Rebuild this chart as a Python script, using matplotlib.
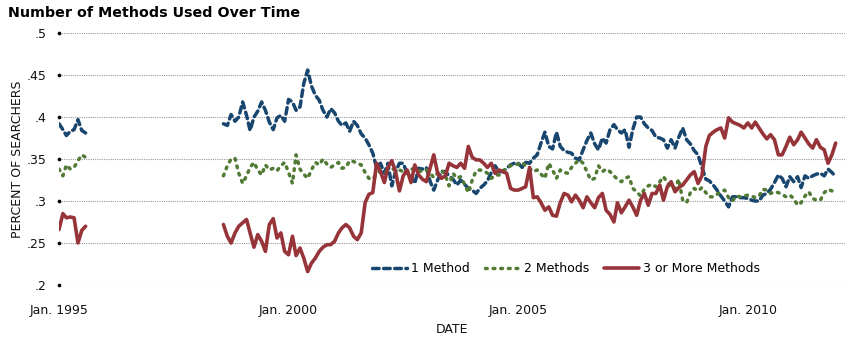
import numpy as np
import pandas as pd
import matplotlib
matplotlib.use("Agg")
import matplotlib.pyplot as plt
import matplotlib.transforms as mtransforms

# ---------------- data ----------------
early_start = "1995-01-01"
main_start = "1998-08-01"

blue_1995 = [.392, .385, .378, .383, .385, .397, .384, .381]
green_1995 = [.338, .330, .343, .338, .340, .348, .355, .352]
red_1995 = [.266, .285, .280, .281, .280, .250, .265, .270]

one_method = [
    .392, .390, .403, .395, .400,
    .418, .402, .384, .400, .407, .418, .408, .394, .385, .399, .402, .395,
    .421, .418, .408, .412, .440, .456, .437, .426, .420, .408, .400, .410,
    .405, .395, .390, .393, .383, .395, .390, .380, .375, .367, .357, .340,
    .345, .333, .345, .318, .335, .345, .345, .333, .329, .321, .339, .338,
    .340, .323, .313, .325, .335, .335, .330, .326, .319, .325, .320, .315,
    .313, .309, .315, .319, .324, .334, .342, .335, .335, .339, .343, .345,
    .345, .340, .346, .345, .351, .355, .369, .382, .365, .362, .382, .365,
    .360, .358, .357, .351, .349, .361, .372, .381, .368, .361, .375, .369,
    .385, .391, .385, .381, .385, .364, .385, .400, .400, .392, .387, .384,
    .376, .375, .373, .363, .373, .363, .376, .387, .373, .368, .360, .355,
    .340, .326, .324, .319, .313, .306, .300, .293, .305, .305, .304, .304,
    .303, .301, .300, .300, .307, .309, .314, .322, .331, .327, .317, .329,
    .323, .329, .316, .330, .327, .330, .332, .333, .330, .338, .334, .329,
]
two_methods = [
    .330, .342, .350, .351, .333,
    .321, .330, .340, .346, .337, .331, .343, .337, .339, .336, .342, .346,
    .334, .321, .355, .338, .332, .327, .337, .346, .343, .350, .344, .340,
    .343, .346, .339, .340, .348, .347, .345, .343, .334, .327, .326, .332,
    .336, .334, .336, .337, .339, .337, .335, .333, .339, .336, .336, .335,
    .337, .333, .328, .333, .337, .331, .318, .333, .327, .329, .320, .310,
    .325, .336, .337, .336, .333, .327, .331, .331, .336, .339, .342, .343,
    .344, .346, .342, .339, .335, .337, .332, .327, .345, .337, .327, .337,
    .334, .333, .340, .345, .349, .345, .335, .325, .327, .342, .335, .338,
    .335, .330, .326, .323, .327, .329, .315, .311, .306, .314, .318, .320,
    .317, .323, .329, .322, .315, .315, .326, .301, .298, .310, .315, .312,
    .316, .310, .305, .305, .308, .311, .313, .304, .300, .306, .305, .306,
    .307, .306, .304, .306, .314, .313, .309, .311, .310, .308, .305, .307,
    .303, .295, .298, .306, .311, .303, .301, .301, .310, .314, .312, .307,
]
three_plus = [
    .272, .258, .250, .262, .270,
    .274, .278, .262, .245, .260, .252, .240, .272, .279, .256, .262, .240,
    .236, .258, .235, .244, .232, .216, .226, .232, .240, .245, .248, .248,
    .252, .262, .268, .272, .268, .258, .254, .262, .298, .308, .310, .345,
    .335, .322, .340, .348, .335, .312, .330, .337, .322, .343, .331, .326,
    .323, .340, .355, .333, .327, .330, .345, .342, .340, .345, .339, .365,
    .352, .349, .349, .345, .340, .345, .333, .337, .335, .333, .315, .313,
    .313, .315, .317, .340, .304, .305, .298, .289, .293, .283, .282, .298,
    .309, .307, .299, .307, .301, .292, .305, .298, .292, .304, .309, .289,
    .284, .275, .298, .286, .293, .301, .293, .283, .301, .309, .295, .309,
    .309, .319, .301, .317, .323, .311, .316, .319, .325, .331, .335, .321,
    .330, .365, .378, .382, .385, .387, .375, .399, .394, .392, .390, .387,
    .393, .387, .394, .387, .380, .374, .379, .373, .355, .355, .365, .376,
    .367, .373, .382, .375, .368, .363, .373, .364, .361, .345, .355, .369,
]

series_names = ["1 Method", "2 Methods", "3 or More Methods"]
y_ticks = [.2, .25, .3, .35, .4, .45, .5]
y_tick_labels = [".2", ".25", ".3", ".35", ".4", ".45", ".5"]
x_tick_years = [1995, 2000, 2005, 2010]

# ---------------- build frame ----------------
d_early = pd.date_range(early_start, periods=len(blue_1995), freq="MS")
d_main = pd.date_range(main_start, periods=len(one_method), freq="MS")
gap = pd.DatetimeIndex([d_early[-1] + pd.DateOffset(months=1)])
dates = d_early.append(gap).append(d_main)

def join(a, b):
    return np.array(list(a) + [np.nan] + list(b), dtype=float)

blue = join(blue_1995, one_method)
green = join(green_1995, two_methods)
red = join(red_1995, three_plus)

# ---------------- figure ----------------
fig = plt.figure(figsize=(8.5, 3.47), dpi=100)
ax = fig.add_axes([0.0694, 0.1787, 0.925, 0.726])

c_blue = "#18466f"
c_green = "#517a34"
c_red = "#963439"

ax.plot(dates, blue, color=c_blue, lw=2.5, linestyle=(0, (1.9, 1.3)),
        dash_capstyle="round", label=series_names[0])
ax.plot(dates, green, color=c_green, lw=2.5, linestyle=(0, (0.5, 1.7)),
        dash_capstyle="round", label=series_names[1])
ax.plot(dates, red, color=c_red, lw=2.6, solid_capstyle="round",
        solid_joinstyle="round", label=series_names[2])

ax.set_ylim(0.2, 0.5)
ax.set_xlim(pd.Timestamp("1995-01-01"), pd.Timestamp("2012-02-15"))
ax.set_yticks(y_ticks)
ax.set_yticklabels(y_tick_labels)
ax.set_xticks([pd.Timestamp(f"{y}-01-01") for y in x_tick_years])
ax.set_xticklabels([f"Jan. {y}" for y in x_tick_years])

for s in ax.spines.values():
    s.set_visible(False)
ax.grid(axis="y", color="#9a9a9a", linestyle=(0, (1, 1)), linewidth=0.8)
ax.set_axisbelow(True)

ax.tick_params(axis="x", length=0, pad=14, labelsize=9, colors="#111111")
ax.tick_params(axis="y", length=0, pad=9, labelsize=9, colors="#111111")

# black dots marking the y ticks at the left edge
trans = mtransforms.blended_transform_factory(ax.transAxes, ax.transData)
ax.scatter(np.zeros(len(y_ticks)), y_ticks, s=7, color="black",
           transform=trans, clip_on=False, zorder=5, linewidths=0)

ax.set_xlabel("DATE", fontsize=9, labelpad=4, color="#111111")
ax.set_ylabel("PERCENT OF SEARCHERS", fontsize=9, labelpad=2, color="#111111")

leg = ax.legend(loc="lower center", bbox_to_anchor=(0.645, -0.005), ncol=3,
                frameon=False, fontsize=9, handlelength=2.8,
                handletextpad=0.3, columnspacing=1.2)

fig.text(0.009, 0.962, "Number of Methods Used Over Time", fontsize=10.3,
         fontweight="heavy", ha="left", va="center", color="black")

fig.savefig("out.png", dpi=100)
